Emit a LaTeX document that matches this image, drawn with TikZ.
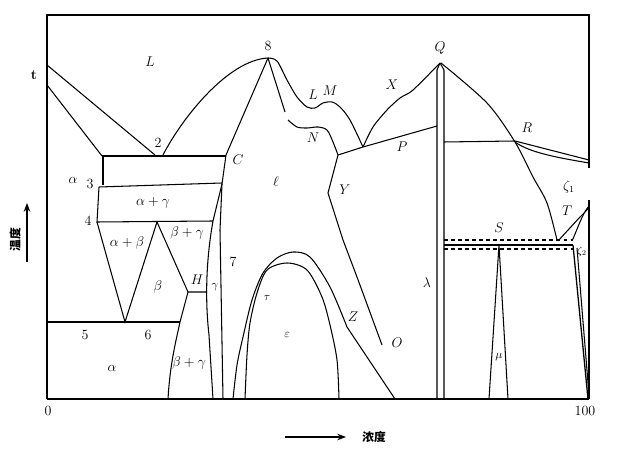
\documentclass[tikz,border=0pt]{standalone}
\usepackage{fontspec}
\newfontfamily\cjk{Noto Sans CJK SC}
\usepackage{amsmath}
\usetikzlibrary{arrows.meta, positioning}

\begin{document}
\begin{tikzpicture}[x=0.03cm, y=-0.03cm,
		ln/.style={line width=0.9pt},
		bd/.style={line width=1.1pt},
		lab/.style={font=\large},
		sm/.style={font=\large},
		arr/.style={-Stealth, line width=1pt}]
	\useasboundingbox (0,0) rectangle (633,455);
	% frame
	\draw[bd] (47,399) -- (47,15) -- (589,15) -- (589,168);
	\draw[bd] (47,399) -- (589,399);
	\draw[bd] (589,200) -- (589,253);
	\draw[line width=1.6pt] (589,253) -- (589,399);
	% left side
	\draw[ln] (47,65) -- (155,155);
	\draw[ln] (47,85) -- (102,156);
	\draw[ln] (163,155) .. controls (182,118) and (228,60) .. (268,58);
	\draw[ln] (102,156) -- (226,156);
	\draw[ln] (103,156) -- (103,185);
	\draw[ln] (99,187) -- (222,183);
	\draw[ln] (99,187) -- (97,222) -- (213,221);
	\draw[ln] (97,222) -- (125,322) -- (157,222);
	\draw[ln] (157,222) -- (188,292) -- (207,292);
	\draw[ln] (188,292) -- (180,322) .. controls (175,345) and (170,365) .. (168,399);
	\draw[ln] (47,322) -- (180,322);
	\draw[ln] (268,58) -- (226,155) -- (222,184) -- (220,230) -- (223,399);
	\draw[ln] (222,184) -- (213,221) .. controls (206,260) and (205,300) .. (209,335) -- (213,399);
	% middle
	\draw[ln] plot[smooth] coordinates {(268,58) (277,61) (287,80) (297,97) (307,107) (315,108) (323,103) (332,102) (340,107) (350,120) (363,147)};
	\draw[ln] (268,58) -- (285,112);
	\draw[ln] plot[smooth] coordinates {(288,120) (297,127) (307,128) (318,127) (327,130) (333,142) (338,155)};
	\draw[ln] (338,155) -- (363,147) -- (437,126);
	\draw[ln] plot[smooth] coordinates {(363,147) (373,127) (387,110) (400,98) (413,90) (440,63)};
	\draw[ln] (338,155) -- (328,193) -- (343,240) -- (357,277) -- (382,345);
	\draw[ln] plot[smooth] coordinates {(233,399) (237,365) (243,337) (252,300) (263,273) (277,258) (293,252) (310,257) (330,287) (347,327)} -- (395,399);
	\draw[ln] plot[smooth] coordinates {(245,399) (247,355) (250,323) (257,293) (267,270) (287,263) (307,270) (322,297) (330,325) (337,360) (339,399)};
	% right side
	\draw[ln] (440,63) -- (437,70) -- (437,399);
	\draw[ln] (440,63) -- (444,70) -- (444,399);
	\draw[ln] plot[smooth] coordinates {(441,63) (487,103) (515,142) (533,177) (547,203) (557,240)};
	\draw[ln] (444,142) -- (515,141) -- (589,160);
	\draw[ln] (515,142) .. controls (530,153) and (560,158) .. (589,163);
	\draw[ln] (558,241) -- (580,217) -- (589,208);
	\draw[ln] (572,241) .. controls (578,228) and (582,214) .. (589,206);
	\draw[ln, dashed] (444,240) -- (572,240);
	\draw[ln] (444,245) -- (573,245);
	\draw[ln, dashed] (444,249) -- (573,249);
	\draw[ln] (489,399) -- (499,245) -- (508,399);
	\draw[line width=1.1pt] (573,245) -- (588,399);
	\draw[ln] (577,248) -- (589,395);
	% labels
	\foreach \x/\y/\t in {150/62/L, 238/160/C, 313/95/L, 330/91/M, 313/138/N,
		345/190/Y, 392/85/X, 402/147/P, 440/48/Q, 353/317/Z, 397/343/O,
		527/128/R, 567/211/T, 499/228/S, 197/280/H}
		\node[lab] (n\t\x) at (\x,\y) {$\t$};
	\foreach \x/\y/\t in {158/143/2, 90/184/3, 88/221/4, 85/335/5, 148/335/6,
		268/46/8, 233/262/7, 48/411/0, 585/411/100}
		\node[lab] (d\t) at (\x,\y) {\t};
	\node[lab, font=\large\bfseries] (t) at (34,75) {t};
	\node[sm] (a1) at (73,180) {$\alpha$};
	\node[sm] (ag) at (153,203) {$\alpha+\gamma$};
	\node[sm] (ab) at (127,243) {$\alpha+\beta$};
	\node[sm] (bg1) at (187,233) {$\beta+\gamma$};
	\node[sm] (b) at (158,287) {$\beta$};
	\node[font=\normalsize] (g) at (215,287) {$\gamma$};
	\node[sm] (a2) at (112,368) {$\alpha$};
	\node[sm] (bg2) at (189,363) {$\beta+\gamma$};
	\node[sm] (l) at (276,182) {$\ell$};
	\node[font=\normalsize] (tau) at (267,298) {$\tau$};
	\node[font=\normalsize] (eps) at (287,335) {$\varepsilon$};
	\node[sm] (lam) at (427,283) {$\lambda$};
	\node[font=\normalsize] (mu) at (499,357) {$\mu$};
	\node[sm] (z1) at (569,187) {$\zeta_1$};
	\node[font=\small, inner sep=0pt] (z2) at (582,252) {$\zeta_2$};
	% axis labels
	\node[font=\cjk\bfseries, rotate=90] (ylab) at (15,240) {温度};
	\coordinate (ya0) at (27,262);
	\coordinate (ya1) at (27,203);
	\draw[arr] (ya0) -- (ya1);
	\node[font=\cjk\bfseries] (xlab) at (374,437) {浓度};
	\coordinate (xa0) at (285,437);
	\coordinate (xa1) at (346,437);
	\draw[arr] (xa0) -- (xa1);
\end{tikzpicture}
\end{document}
